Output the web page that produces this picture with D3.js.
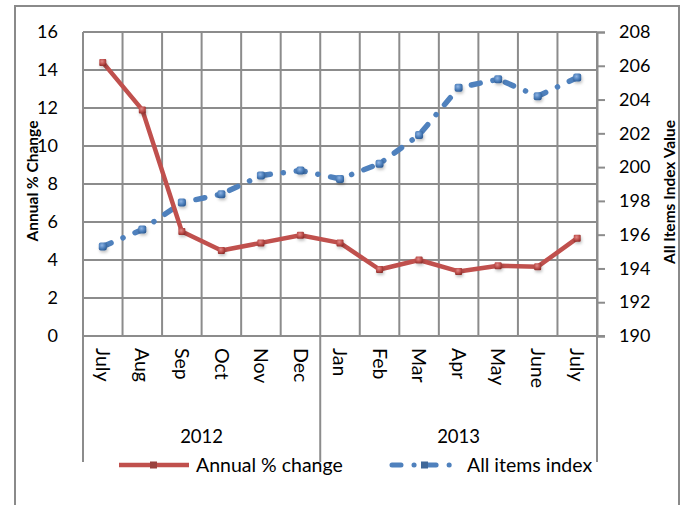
<!DOCTYPE html>
<html>
<head>
<meta charset="utf-8">
<script src="https://cdn.jsdelivr.net/npm/d3@7"></script>
<style>
  body { margin: 0; background: #fff; }
  text { font-family: Lato, "Open Sans", sans-serif; fill: #000; }
</style>
</head>
<body>
<svg class="chart" width="683" height="505"></svg>
<script>
// data
const months = ["July", "Aug", "Sep", "Oct", "Nov", "Dec", "Jan", "Feb", "Mar", "Apr", "May", "June", "July"];
const years = ["2012", "2012", "2012", "2012", "2012", "2012", "2013", "2013", "2013", "2013", "2013", "2013", "2013"];
const annualChange = [14.4, 11.9, 5.5, 4.5, 4.9, 5.3, 4.9, 3.5, 4.0, 3.4, 3.7, 3.65, 5.15];
const allItemsIndex = [195.3, 196.3, 197.9, 198.4, 199.5, 199.8, 199.3, 200.2, 201.9, 204.7, 205.2, 204.2, 205.3];
const leftTicks = [0, 2, 4, 6, 8, 10, 12, 14, 16];
const rightTicks = [190, 192, 194, 196, 198, 200, 202, 204, 206, 208];

const margin = {top: 32, right: 86, bottom: 169, left: 83};
const width = 683, height = 505;
const red = "#c0504d", blue = "#4f81bd", grid = "#8c8c8c";

const svg = d3.select(".chart");
const idx = months.map((m, i) => i);

const x = d3.scaleBand()
    .domain(idx)
    .range([margin.left, width - margin.right]);
const yLeft = d3.scaleLinear()
    .domain([0, 16])
    .range([height - margin.bottom, margin.top]);
const yRight = d3.scaleLinear()
    .domain([190, 208])
    .range([height - margin.bottom, margin.top]);
const cx = i => x(i) + x.bandwidth() / 2;
const edge = i => i < months.length ? x(i) : x(i - 1) + x.bandwidth();

// gradients for the little 3d-ish markers
const defs = svg.append("defs");
function markerGrad(id, light, base, dark) {
    const g = defs.append("radialGradient").attr("id", id)
        .attr("cx", "40%").attr("cy", "35%").attr("r", "70%");
    g.append("stop").attr("offset", "0%").attr("stop-color", light);
    g.append("stop").attr("offset", "55%").attr("stop-color", base);
    g.append("stop").attr("offset", "100%").attr("stop-color", dark);
}
markerGrad("gRed", "#e08a88", "#c0504d", "#8c2e2b");
markerGrad("gBlue", "#8fb4e3", "#4f81bd", "#2c5a92");
defs.append("filter").attr("id", "shadow")
    .attr("x", "-50%").attr("y", "-50%").attr("width", "200%").attr("height", "200%")
  .append("feDropShadow")
    .attr("dx", 1).attr("dy", 2).attr("stdDeviation", 1.5)
    .attr("flood-color", "#000").attr("flood-opacity", 0.25);

// outer chart border
svg.append("path")
    .attr("d", `M15,505V6H679V505`)
    .attr("fill", "none")
    .attr("stroke", "#8a8a8a")
    .attr("stroke-width", 2);

// horizontal gridlines (left axis)
svg.append("g")
    .selectAll("line")
    .data(leftTicks)
    .enter().append("line")
        .attr("x1", margin.left)
        .attr("x2", width - margin.right)
        .attr("y1", d => yLeft(d))
        .attr("y2", d => yLeft(d))
        .attr("stroke", grid)
        .attr("stroke-width", 2);

// vertical gridlines at category edges
svg.append("g")
    .selectAll("line")
    .data(d3.range(months.length + 1))
    .enter().append("line")
        .attr("x1", edge)
        .attr("x2", edge)
        .attr("y1", margin.top)
        .attr("y2", height - margin.bottom)
        .attr("stroke", grid)
        .attr("stroke-width", 2);

// left axis labels (no line, no ticks)
svg.append("g")
    .attr("text-anchor", "end")
    .style("font-size", "18px")
    .selectAll("text")
    .data(leftTicks)
    .enter().append("text")
        .attr("x", 58)
        .attr("y", d => yLeft(d))
        .attr("dy", "0.35em")
        .text(d => d);

// right axis
svg.append("g")
    .attr("transform", `translate(${width - margin.right},0)`)
    .call(d3.axisRight(yRight).tickValues(rightTicks).tickSize(8).tickPadding(14))
    .call(g => g.selectAll("line, path").attr("stroke", grid).attr("stroke-width", 2))
    .call(g => g.selectAll("text").style("font-size", "18px").attr("font-family", null));

// x axis baseline
svg.append("line")
    .attr("x1", margin.left)
    .attr("x2", width - margin.right + 8)
    .attr("y1", yLeft(0))
    .attr("y2", yLeft(0))
    .attr("stroke", grid)
    .attr("stroke-width", 2);

// month labels, rotated clockwise
svg.append("g")
    .style("font-size", "19.5px")
    .selectAll("text")
    .data(idx)
    .enter().append("text")
        .attr("transform", i => `translate(${cx(i)},${yLeft(0) + 12}) rotate(90)`)
        .attr("dy", "0.35em")
        .text(i => months[i]);

// year groups: separators and labels
const yearGroups = d3.groups(idx, i => years[i]);
const seps = [0].concat(yearGroups.map(g => g[1][g[1].length - 1] + 1));
svg.append("g")
    .selectAll("line")
    .data(seps)
    .enter().append("line")
        .attr("x1", edge)
        .attr("x2", edge)
        .attr("y1", yLeft(0))
        .attr("y2", 462)
        .attr("stroke", grid)
        .attr("stroke-width", 2);

svg.append("g")
    .attr("text-anchor", "middle")
    .style("font-size", "18.5px")
    .selectAll("text")
    .data(yearGroups)
    .enter().append("text")
        .attr("x", g => (edge(g[1][0]) + edge(g[1][g[1].length - 1] + 1)) / 2)
        .attr("y", 443)
        .text(g => g[0]);

// axis titles
svg.append("text")
    .attr("transform", "translate(33,181) rotate(-90)")
    .attr("text-anchor", "middle")
    .attr("dy", "0.35em")
    .style("font-size", "15.5px")
    .style("font-weight", "bold")
    .text("Annual % Change");

svg.append("text")
    .attr("transform", "translate(670,192) rotate(-90)")
    .attr("text-anchor", "middle")
    .attr("dy", "0.35em")
    .style("font-size", "15.5px")
    .style("font-weight", "bold")
    .text("All Items Index Value");

// series lines
const blueDash = "9,13,0.1,13";

svg.append("path")
    .datum(idx)
    .attr("fill", "none")
    .attr("stroke", blue)
    .attr("stroke-width", 5.5)
    .attr("stroke-linecap", "round")
    .attr("stroke-dasharray", blueDash)
    .attr("d", d3.line().x(cx).y(i => yRight(allItemsIndex[i])));

svg.append("path")
    .datum(idx)
    .attr("fill", "none")
    .attr("stroke", red)
    .attr("stroke-width", 4.5)
    .attr("stroke-linejoin", "round")
    .attr("d", d3.line().x(cx).y(i => yLeft(annualChange[i])));

// markers
svg.append("g")
    .attr("filter", "url(#shadow)")
    .selectAll("rect")
    .data(idx)
    .enter().append("rect")
        .attr("x", i => cx(i) - 4)
        .attr("y", i => yRight(allItemsIndex[i]) - 4)
        .attr("width", 8)
        .attr("height", 8)
        .attr("rx", 2)
        .attr("fill", "url(#gBlue)");

svg.append("g")
    .attr("filter", "url(#shadow)")
    .selectAll("rect")
    .data(idx)
    .enter().append("rect")
        .attr("x", i => cx(i) - 3.5)
        .attr("y", i => yLeft(annualChange[i]) - 3.5)
        .attr("width", 7)
        .attr("height", 7)
        .attr("rx", 1)
        .attr("fill", "url(#gRed)");

// legend
const legend = svg.append("g").style("font-size", "19.5px");
const legendItems = [
    {label: "Annual % change", color: red, x: 119, dash: null, width: 4.5},
    {label: "All items index", color: blue, x: 390, dash: blueDash, width: 5}
];
const item = legend.selectAll("g")
    .data(legendItems)
    .enter().append("g")
        .attr("transform", d => `translate(${d.x},465)`);
item.append("line")
    .attr("x1", d => d.dash ? 2 : 0)
    .attr("x2", 70)
    .attr("stroke", d => d.color)
    .attr("stroke-width", d => d.width)
    .attr("stroke-linecap", d => d.dash ? "round" : "butt")
    .attr("stroke-dasharray", d => d.dash);
item.append("rect")
    .attr("x", 31)
    .attr("y", -3.5)
    .attr("width", 7)
    .attr("height", 7)
    .attr("fill", d => d3.color(d.color).darker(0.6));
item.append("text")
    .attr("x", 77)
    .attr("dy", "0.35em")
    .text(d => d.label);
</script>
</body>
</html>
